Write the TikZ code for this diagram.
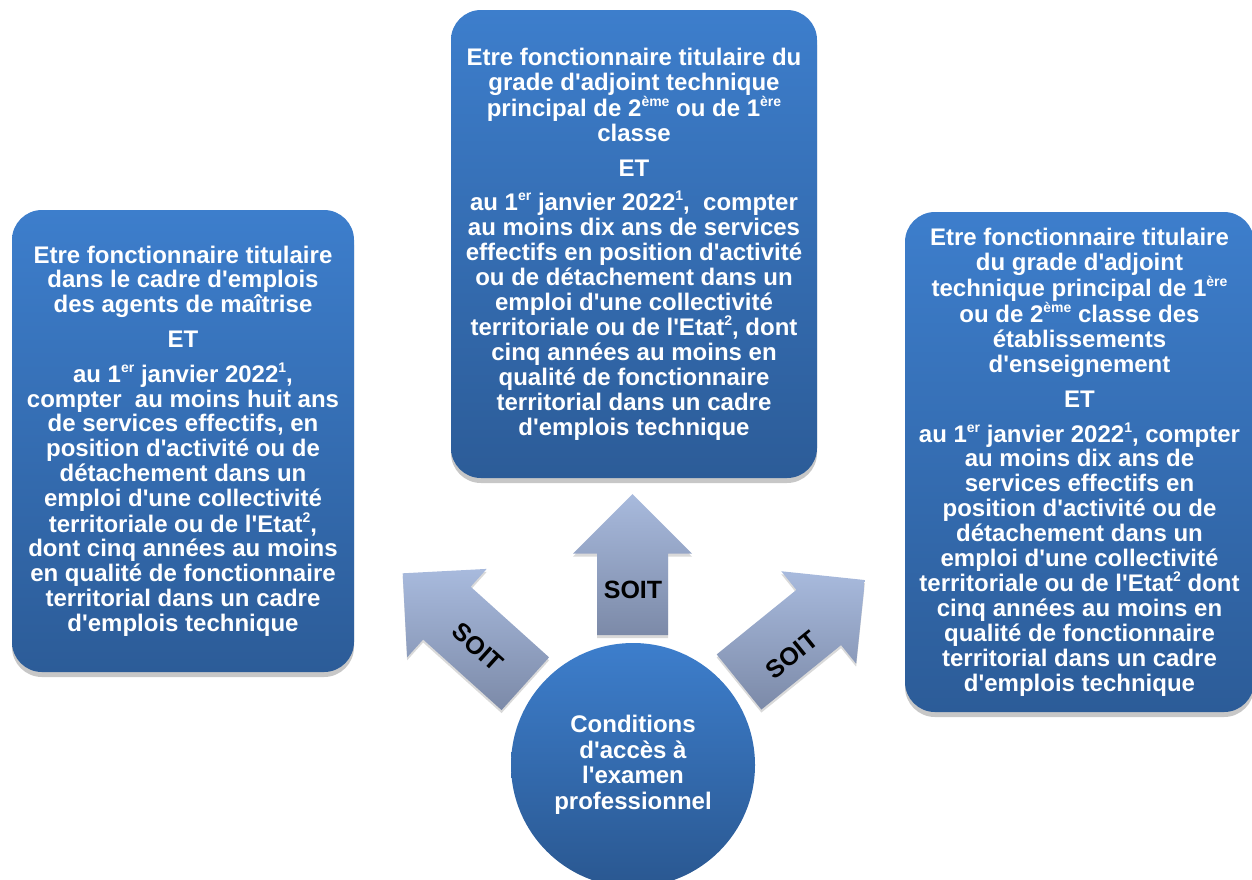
\documentclass[tikz,border=0pt]{standalone}
\usepackage{fontspec}
\setmainfont{Liberation Sans}[Ligatures=TeXOff]
\usetikzlibrary{shadows}
\definecolor{boxtop}{RGB}{61,126,204}
\definecolor{boxbot}{RGB}{44,92,152}
\definecolor{arrlight}{RGB}{168,186,221}
\definecolor{arrdark}{RGB}{124,138,168}
\newcommand{\supx}[1]{\raisebox{0.42em}{\fontsize{14}{14}\selectfont #1}}
\tikzset{
  infobox/.style={rectangle, rounded corners=30pt, top color=boxtop, bottom color=boxbot,
    draw=none, text=white, align=center, inner sep=0pt,
    font=\fontsize{24}{24.8}\selectfont\bfseries,
    drop shadow={shadow xshift=0pt, shadow yshift=-5pt, opacity=0.22, fill=black}},
  hub/.style={circle, top color=boxtop, bottom color=boxbot!95!black, draw=none,
    text=white, align=center, inner sep=0pt, minimum size=244pt,
    font=\fontsize{24}{25.5}\selectfont\bfseries},
  arrowfill/.style={top color=arrlight, bottom color=arrdark, draw=none,
    drop shadow={shadow xshift=0pt, shadow yshift=-3pt, opacity=0.15, fill=black}},
  soitlabel/.style={text=black, font=\fontsize{25}{28}\selectfont\bfseries, inner sep=0pt}
}
\newcommand{\arrowpath}[1]{%
  \path[arrowfill] (-#1/2,-35.5) -- (#1/2-59.5,-35.5) -- (#1/2-59.5,-59.5) -- (#1/2,0)
    -- (#1/2-59.5,59.5) -- (#1/2-59.5,35.5) -- (-#1/2,35.5) -- cycle;}
\begin{document}
\begin{tikzpicture}[x=1pt,y=-1pt]
\useasboundingbox (0,0) rectangle (1252,879);

\node[infobox, minimum width=342pt, minimum height=462pt] (left) at (183,441) {%
Etre fonctionnaire titulaire\\
dans le cadre d'emplois\\
des agents de maîtrise\\[10pt]
ET\\[10pt]
au 1\supx{er} janvier 2022\supx{1},\\
compter~ au moins huit ans\\
de services effectifs, en\\
position d'activité ou de\\
détachement dans un\\
emploi d'une collectivité\\
territoriale ou de l'Etat\supx{2},\\
dont cinq années au moins\\
en qualité de fonctionnaire\\
territorial dans un cadre\\
d'emplois technique};

\node[infobox, minimum width=366pt, minimum height=468pt] (top) at (634,244) {%
Etre fonctionnaire titulaire du\\
grade d'adjoint technique\\
principal de 2\supx{ème} ou de 1\supx{ère}\\
classe\\[10pt]
ET\\[10pt]
au 1\supx{er} janvier 2022\supx{1},~ compter\\
au moins dix ans de services\\
effectifs en position d'activité\\
ou de détachement dans un\\
emploi d'une collectivité\\
territoriale ou de l'Etat\supx{2}, dont\\
cinq années au moins en\\
qualité de fonctionnaire\\
territorial dans un cadre\\
d'emplois technique};

\node[infobox, minimum width=349pt, minimum height=500pt] (right) at (1079.5,462) {%
Etre fonctionnaire titulaire\\
du grade d'adjoint\\
technique principal de 1\supx{ère}\\
ou de 2\supx{ème} classe des\\
établissements\\
d'enseignement\\[10pt]
ET\\[10pt]
au 1\supx{er} janvier 2022\supx{1}, compter\\
au moins dix ans de\\
services effectifs en\\
position d'activité ou de\\
détachement dans un\\
emploi d'une collectivité\\
territoriale ou de l'Etat\supx{2} dont\\
cinq années au moins en\\
qualité de fonctionnaire\\
territorial dans un cadre\\
d'emplois technique};

\begin{scope}[shift={(632.5,564.5)}, rotate=90]
  \arrowpath{141}
\end{scope}
\begin{scope}[shift={(464,628.5)}, rotate=138]
  \arrowpath{165}
\end{scope}
\begin{scope}[shift={(802,631)}, rotate=39]
  \arrowpath{162}
\end{scope}

\node[soitlabel] (soitup) at (633,590) {SOIT};
\node[soitlabel, rotate=-42] (soitleft) at (478,647) {SOIT};
\node[soitlabel, rotate=39] (soitright) at (792,655) {SOIT};

\node[hub] (hub) at (633,765) {Conditions\\d'accès à\\l'examen\\professionnel};
\end{tikzpicture}
\end{document}
